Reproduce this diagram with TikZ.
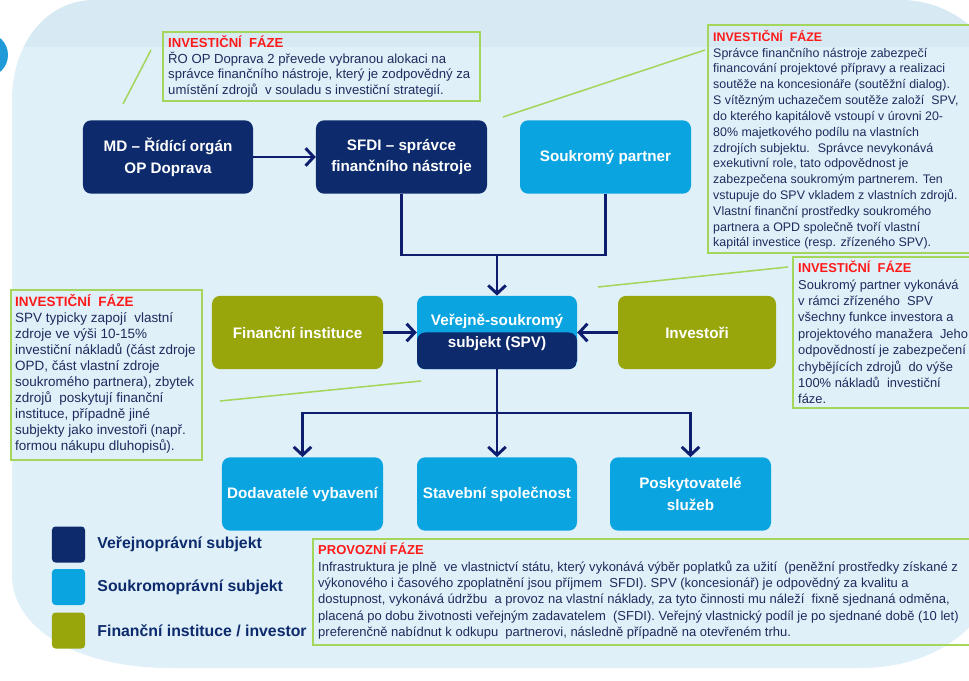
\documentclass[tikz,border=0pt]{standalone}
\usepackage{fontspec}
\setmainfont{Liberation Sans}
\usetikzlibrary{arrows.meta, positioning}

\definecolor{navy}{HTML}{0C2A6C}
\definecolor{skyblue}{HTML}{0AA5E1}
\definecolor{olivegreen}{HTML}{98A60B}
\definecolor{flownavy}{HTML}{0E1D6E}
\definecolor{notegreen}{HTML}{A3D65A}
\definecolor{titlered}{HTML}{FF1A1A}
\definecolor{bodytext}{HTML}{1E2B5E}
\definecolor{bglight}{HTML}{DFF0F8}
\definecolor{bgtop}{HTML}{D7EAF3}
\definecolor{dotblue}{HTML}{1E9AD8}

\newcommand{\phase}[1]{{\color{titlered}\bfseries #1}\\}
\newcommand{\bgpath}{(12,100) .. controls (12,45) and (45,0) .. (95,0) -- (900,0)
  .. controls (960,0) and (1010,50) .. (1010,110) -- (1010,520)
  .. controls (1010,610) and (950,668) .. (860,668) -- (170,668)
  .. controls (80,668) and (12,630) .. (12,575) -- cycle}

\tikzset{
  box/.style={rectangle, rounded corners=7pt, minimum height=2.2cm, inner sep=2pt,
    text=white, align=center, font=\fontsize{13}{18.5}\selectfont\bfseries},
  publicbox/.style={box, fill=navy},
  privatebox/.style={box, fill=skyblue},
  financebox/.style={box, fill=olivegreen},
  flow/.style={draw=flownavy, line width=2.5pt},
  arrowed/.style={-{Straight Barb[length=7pt,width=15pt]}},
  notebox/.style={draw=notegreen, line width=1.3pt},
  notetext/.style={anchor=north west, align=left, inner sep=0pt, text=bodytext},
  pointer/.style={draw=notegreen, line width=1.3pt},
  legendkey/.style={rectangle, rounded corners=3pt, minimum width=0.99cm, minimum height=1.08cm, inner sep=0pt},
  legendlabel/.style={inner sep=0pt, text=navy, font=\fontsize{13.5}{16}\selectfont\bfseries}
}

\begin{document}
\begin{tikzpicture}[x=0.03cm, y=-0.03cm]
  \path[use as bounding box] (0,0) rectangle (969,681);
  \clip (0,0) rectangle (969,681);

  % background
  \fill[white] (0,0) rectangle (969,681);
  \fill[bglight] \bgpath;
  \begin{scope}
    \clip \bgpath;
    \fill[bgtop] (0,0) rectangle (1010,47);
  \end{scope}
  \fill[dotblue] (-14,55) circle[radius=0.66cm];

  % subjects
  \node[publicbox, minimum width=5.1cm] (md) at (168,157) {MD – Řídící orgán\\OP Doprava};
  \node[publicbox, minimum width=5.13cm] (sfdi) at (401.5,157) {SFDI – správce\\finančního nástroje};
  \node[privatebox, minimum width=5.13cm] (partner) at (605.5,157) {Soukromý partner};

  \node[financebox, minimum width=5.13cm] (fin) at (297.5,332.5) {Finanční instituce};
  \node[privatebox, minimum width=4.8cm,
    path picture={\fill[navy] (path picture bounding box.west) rectangle (path picture bounding box.south east);}]
    (spv) at (497,332.5) {Veřejně-soukromý\\subjekt (SPV)};
  \node[financebox, minimum width=4.74cm] (inv) at (697,332.5) {Investoři};

  \node[privatebox, minimum width=4.83cm] (dod) at (302.5,494) {Dodavatelé vybavení};
  \node[privatebox, minimum width=4.8cm] (stav) at (497,494) {Stavební společnost};
  \node[privatebox, minimum width=4.83cm] (posk) at (690.5,494) {Poskytovatelé\\služeb};

  % connectors
  \coordinate (merge) at (497,255);
  \coordinate (split) at (497,413);
  \draw[flow, arrowed] (md) -- (sfdi);
  \draw[flow] (sfdi.south) |- (merge) -| (partner.south);
  \draw[flow, arrowed] (merge) -- (spv.north);
  \draw[flow, arrowed] (fin) -- (spv);
  \draw[flow, arrowed] (inv) -- (spv);
  \draw[flow] (spv.south) -- (split);
  \draw[flow, arrowed] (split) -| (dod.north);
  \draw[flow, arrowed] (split) -- (stav.north);
  \draw[flow, arrowed] (split) -| (posk.north);

  % notes
  \draw[notebox] (163,32) rectangle (480,101);
  \node[notetext, font=\fontsize{11.2}{13.2}\selectfont] (notea) at (168,36) {\phase{INVESTIČNÍ~~FÁZE}ŘO OP Doprava 2 převede vybranou alokaci na\\správce finančního nástroje, který je zodpovědný za\\umístění zdrojů~ v souladu s investiční strategií.};
  \coordinate (pa1) at (151,50);
  \coordinate (pa2) at (123,104);
  \draw[pointer] (pa1) -- (pa2);

  \draw[notebox] (708,25) rectangle (1000,253);
  \node[notetext, font=\fontsize{10.6}{13.5}\selectfont] (noteb) at (713,30) {\phase{INVESTIČNÍ~~FÁZE}Správce finančního nástroje zabezpečí\\financování projektové přípravy a realizaci\\soutěže na koncesionáře (soutěžní dialog).\\S vítězným uchazečem soutěže založí~ SPV,\\do kterého kapitálově vstoupí v úrovni 20-\\80\% majetkového podílu na vlastních\\zdrojích subjektu.~ Správce nevykonává\\exekutivní role, tato odpovědnost je\\zabezpečena soukromým partnerem. Ten\\vstupuje do SPV vkladem z vlastních zdrojů.\\Vlastní finanční prostředky soukromého\\partnera a OPD společně tvoří vlastní\\kapitál investice (resp. zřízeného SPV).};
  \coordinate (pb1) at (503,117);
  \coordinate (pb2) at (705,50);
  \draw[pointer] (pb1) -- (pb2);

  \draw[notebox] (793,257) rectangle (1000,408);
  \node[notetext, font=\fontsize{11}{14}\selectfont] (notec) at (798,261) {\phase{INVESTIČNÍ~~FÁZE}Soukromý partner vykonává\\v rámci zřízeného~ SPV\\všechny funkce investora a\\projektového manažera~ Jeho\\odpovědností je zabezpečení\\chybějících zdrojů~ do výše\\100\% nákladů~ investiční\\fáze.};
  \coordinate (pc1) at (598,287);
  \coordinate (pc2) at (788,267);
  \draw[pointer] (pc1) -- (pc2);

  \draw[notebox] (11,290) rectangle (202,460);
  \node[notetext, font=\fontsize{11.5}{13.7}\selectfont] (noted) at (15,294) {\phase{INVESTIČNÍ~~FÁZE}SPV typicky zapojí~ vlastní\\zdroje ve výši 10-15\%\\investiční nákladů (část zdroje\\OPD, část vlastní zdroje\\soukromého partnera), zbytek\\zdrojů~ poskytují finanční\\instituce, případně jiné\\subjekty jako investoři (např.\\formou nákupu dluhopisů).};
  \coordinate (pd1) at (220,401);
  \coordinate (pd2) at (421,381);
  \draw[pointer] (pd1) -- (pd2);

  \draw[notebox] (313,539) rectangle (1000,645);
  \node[notetext, font=\fontsize{11.1}{14}\selectfont] (notee) at (318,543) {\phase{PROVOZNÍ FÁZE}Infrastruktura je plně~ ve vlastnictví státu, který vykonává výběr poplatků za užití~ (peněžní prostředky získané z\\výkonového i časového zpoplatnění jsou příjmem~ SFDI). SPV (koncesionář) je odpovědný za kvalitu a\\dostupnost, vykonává údržbu~ a provoz na vlastní náklady, za tyto činnosti mu náleží~ fixně sjednaná odměna,\\placená po dobu životnosti veřejným zadavatelem~ (SFDI). Veřejný vlastnický podíl je po sjednané době (10 let)\\preferenčně nabídnut k odkupu~ partnerovi, následně případně na otevřeném trhu.};

  % legend
  \node[legendkey, fill=navy] (keypublic) at (68.5,544.5) {};
  \node[legendkey, fill=skyblue] (keyprivate) at (68.5,587) {};
  \node[legendkey, fill=olivegreen] (keyfinance) at (68.5,630.5) {};
  \node[legendlabel, right=0.36cm of keypublic] (lblpublic) {Veřejnoprávní subjekt};
  \node[legendlabel, right=0.36cm of keyprivate] (lblprivate) {Soukromoprávní subjekt};
  \node[legendlabel, right=0.36cm of keyfinance] (lblfinance) {Finanční instituce / investor};
\end{tikzpicture}
\end{document}
